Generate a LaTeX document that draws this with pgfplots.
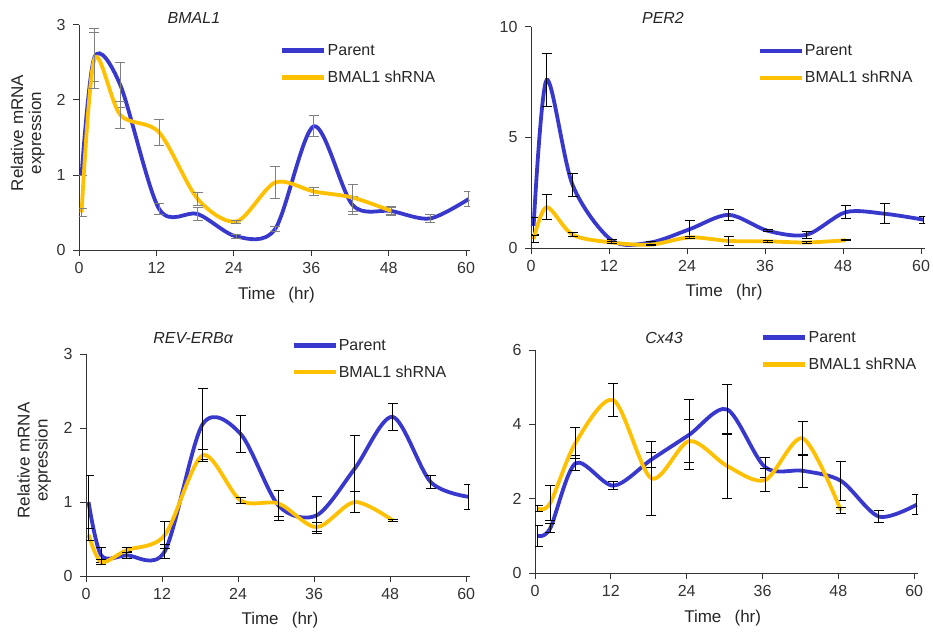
\documentclass[border=0pt]{standalone}
\usepackage{fontspec}
\setmainfont{Liberation Sans}
\usepackage{pgfplots}
\usepackage{pgfplotstable}
\pgfplotsset{compat=1.18}

\definecolor{parent}{RGB}{56,56,204}
\definecolor{shrna}{RGB}{255,192,0}

% columns: time (hr), mean, error
\pgfplotstableread{
x y e
0.4 1.00 0
2.4 2.57 0.33
6.4 2.20 0.30
12.4 0.55 0.07
18.4 0.48 0.09
24.4 0.18 0.03
30.4 0.28 0.03
36.4 1.65 0.14
42.4 0.60 0.12
48.4 0.52 0.05
54.4 0.42 0.05
60.4 0.68 0.10
}\bmalP
\pgfplotstableread{
x y e
0.4 0.50 0.05
2.4 2.55 0.40
6.4 1.80 0.18
12.4 1.57 0.17
18.4 0.68 0.09
24.4 0.38 0.02
30.4 0.90 0.21
36.4 0.78 0.05
42.4 0.70 0.18
48.4 0.52 0.06
}\bmalS
\pgfplotstableread{
x y e
0.4 1.00 0.40
2.4 7.60 1.20
6.4 2.85 0.50
12.4 0.35 0.05
18.4 0.25 0.03
24.4 0.85 0.40
30.4 1.50 0.25
36.4 0.78 0.05
42.4 0.60 0.15
48.4 1.62 0.30
54.4 1.55 0.45
60.4 1.28 0.15
}\perP
\pgfplotstableread{
x y e
0.4 0.40 0.15
2.4 1.85 0.55
6.4 0.60 0.08
12.4 0.25 0.03
18.4 0.15 0.02
24.4 0.48 0.05
30.4 0.32 0.20
36.4 0.30 0.03
42.4 0.25 0.03
48.4 0.35 0.03
}\perS
\pgfplotstableread{
x y e
0.4 1.00 0.36
2.4 0.28 0.10
6.4 0.28 0.05
12.4 0.33 0.10
18.4 2.05 0.48
24.4 1.92 0.25
30.4 0.95 0.20
36.4 0.82 0.25
42.4 1.45 0.45
48.4 2.15 0.18
54.4 1.27 0.09
60.4 1.07 0.17
}\revP
\pgfplotstableread{
x y e
0.4 0.56 0.08
2.4 0.19 0.03
6.4 0.35 0.03
12.4 0.55 0.18
18.4 1.63 0.08
24.4 1.02 0.04
30.4 0.98 0.17
36.4 0.66 0.06
42.4 1.00 0.14
48.4 0.75 0.02
}\revS
\pgfplotstableread{
x y e
0.4 1.00 0.29
2.4 1.20 0.12
6.4 2.95 0.20
12.4 2.35 0.10
18.4 3.05 0.20
24.4 3.72 0.94
30.4 4.40 0.68
36.4 2.85 0.27
42.4 2.75 0.45
48.4 2.48 0.52
54.4 1.52 0.17
60.4 1.84 0.27
}\cxP
\pgfplotstableread{
x y e
0.4 1.73 0.08
2.4 1.88 0.47
6.4 3.50 0.42
12.4 4.65 0.44
18.4 2.55 1.00
24.4 3.55 0.58
30.4 2.88 0.88
36.4 2.50 0.30
42.4 3.62 0.46
48.4 1.68 0.07
}\cxS

\pgfplotsset{
  panel/.style={
    scale only axis,
    axis lines*=left,
    axis line style={black!80, line width=1pt},
    xmin=0, xmax=60.6, ymin=0,
    xtick={0,12,...,60},
    tick align=outside,
    major tick length=6pt,
    tick style={black!80, line width=1pt},
    /pgf/number format/assume math mode=true,
    tick label style={font=\fontsize{16}{18}\selectfont, text=black!80},
    xticklabel style={yshift=-3pt},
    yticklabel style={xshift=-4pt},
    label style={font=\fontsize{17}{18}\selectfont, text=black!85},
    title style={font=\fontsize{16}{18}\selectfont\itshape, text=black!85, anchor=center},
    xlabel={Time\,\,\, (hr)},
    legend style={draw=none, fill=none, anchor=north west, inner sep=0pt,
      font=\fontsize{16}{18}\selectfont, text=black!85, row sep=14pt,
      nodes={inner xsep=1pt, inner ysep=0pt}},
    legend cell align=left,
    legend image code/.code={\draw[#1, line width=4.5pt] (0pt,0pt) -- (42pt,0pt);},
    every axis plot/.append style={smooth, line width=3.8pt, no markers},
  },
  ebars/.style={error bars/.cd, y dir=both, y explicit,
    error bar style={line width=1pt, #1},
    error mark options={rotate=90, mark size=5pt, line width=1pt, #1}},
}

\begin{document}
\begin{tikzpicture}
\path[use as bounding box] (0,0) rectangle (933pt,633pt);

% BMAL1
\begin{axis}[panel, at={(79pt,383pt)}, anchor=south west,
  width=391pt, height=225pt, ymax=3, ytick={0,1,2,3},
  title={BMAL1}, title style={at={(axis description cs:0.294,1.005)}},
  ylabel={Relative mRNA\\expression},
  ylabel style={align=center, at={(axis description cs:-0.131,0.52)}, anchor=center},
  xlabel style={at={(axis description cs:0.505,-0.2)}, anchor=center},
  legend style={at={(axis description cs:0.514,0.915)}}]
\addplot[parent, ebars={gray}] table[x=x, y=y, y error=e] {\bmalP};
\addlegendentry{Parent}
\addplot[shrna, ebars={gray}] table[x=x, y=y, y error=e] {\bmalS};
\addlegendentry{BMAL1 shRNA}
\end{axis}

% PER2
\begin{axis}[panel, at={(531pt,385pt)}, anchor=south west,
  width=394pt, height=221pt, ymax=10, ytick={0,5,10},
  title={PER2}, title style={at={(axis description cs:0.335,1.014)}},
  xlabel style={at={(axis description cs:0.49,-0.2)}, anchor=center},
  legend style={at={(axis description cs:0.574,0.92)}}]
\addplot[parent, ebars={black}] table[x=x, y=y, y error=e] {\perP};
\addlegendentry{Parent}
\addplot[shrna, ebars={black}] table[x=x, y=y, y error=e] {\perS};
\addlegendentry{BMAL1 shRNA}
\end{axis}

% REV-ERBa
\begin{axis}[panel, at={(86pt,57pt)}, anchor=south west,
  width=384pt, height=222pt, ymax=3, ytick={0,1,2,3},
  title={REV-ERBα}, title style={at={(axis description cs:0.279,1.045)}},
  ylabel={Relative mRNA\\expression},
  ylabel style={align=center, at={(axis description cs:-0.135,0.52)}, anchor=center},
  xlabel style={at={(axis description cs:0.505,-0.2)}, anchor=center},
  legend style={at={(axis description cs:0.534,1.068)}}]
\addplot[parent, ebars={black}] table[x=x, y=y, y error=e] {\revP};
\addlegendentry{Parent}
\addplot[shrna, ebars={black}] table[x=x, y=y, y error=e] {\revS};
\addlegendentry{BMAL1 shRNA}
\end{axis}

% Cx43
\begin{axis}[panel, at={(535pt,60pt)}, anchor=south west,
  width=383pt, height=223pt, ymax=6, ytick={0,2,4,6},
  title={Cx43}, title style={at={(axis description cs:0.337,1.027)}},
  xlabel style={at={(axis description cs:0.49,-0.2)}, anchor=center},
  legend style={at={(axis description cs:0.59,1.085)}}]
\addplot[parent, ebars={black}] table[x=x, y=y, y error=e] {\cxP};
\addlegendentry{Parent}
\addplot[shrna, ebars={black}] table[x=x, y=y, y error=e] {\cxS};
\addlegendentry{BMAL1 shRNA}
\end{axis}
\end{tikzpicture}
\end{document}
